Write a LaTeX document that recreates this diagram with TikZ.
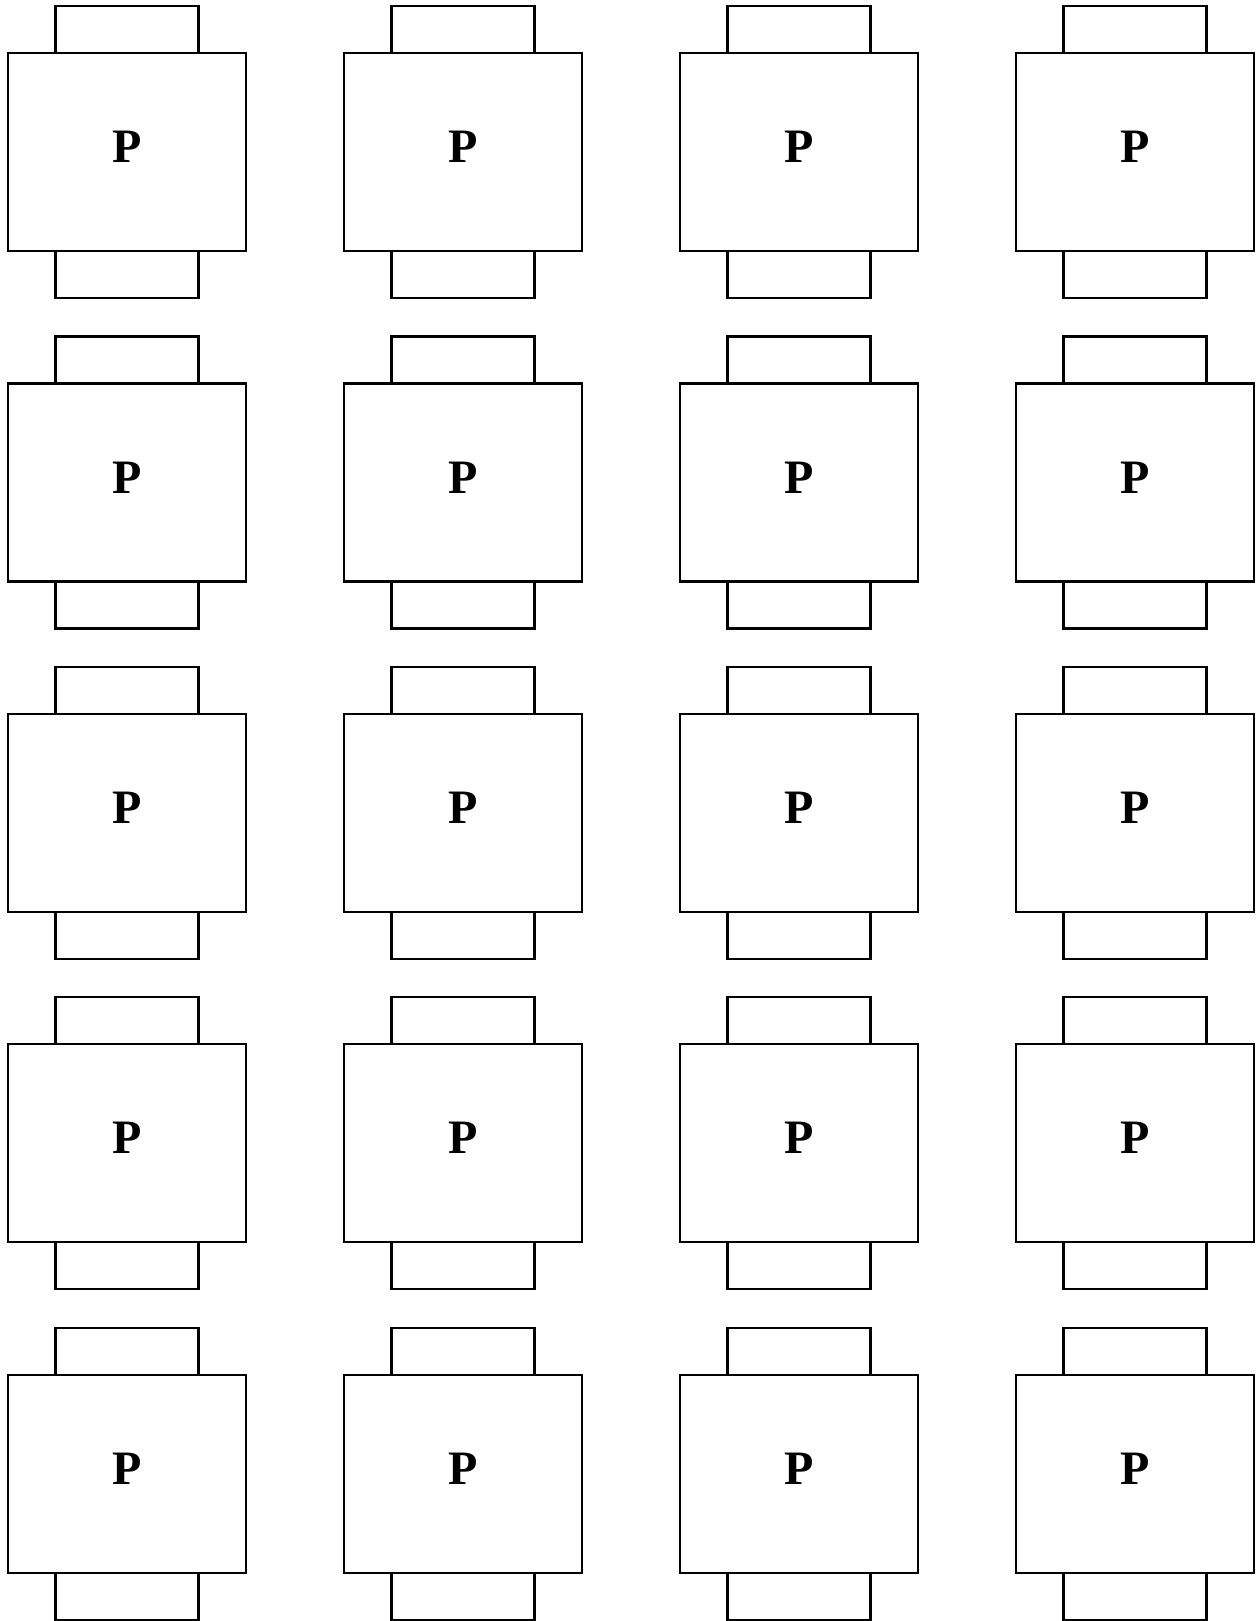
\documentclass[tikz,border=0pt]{standalone}
\usepackage{fontspec}
\setmainfont{Liberation Serif}
\usetikzlibrary{positioning}

\begin{document}
\begin{tikzpicture}[
  x=0.5pt, y=-0.5pt,
  %% main pad: large square with the label
  padbox/.style={draw,line width=1.1pt,rectangle,minimum width=119pt,minimum height=99pt,
                 inner sep=0pt,outer sep=0pt,text depth=5pt,
                 font=\fontsize{24}{24}\selectfont\bfseries},
  %% tabs above and below each pad
  tabbox/.style={draw,line width=1.1pt,rectangle,minimum width=71.5pt,minimum height=23.5pt,
                 inner sep=0pt,outer sep=0pt}
]
\useasboundingbox (0,0) rectangle (1255,1621);

%% ---- GRID OF PADS (4 columns x 5 rows) ----
\foreach \c in {0,...,3}{
  \foreach \r in {0,...,4}{
    \node[padbox] (pad-\r-\c) at ({127+336*\c},{152+330.4*\r}) {P};
    \node[tabbox,above=0pt of pad-\r-\c] (top-\r-\c) {};
    \node[tabbox,below=0pt of pad-\r-\c] (bot-\r-\c) {};
  }
}

\end{tikzpicture}
\end{document}
